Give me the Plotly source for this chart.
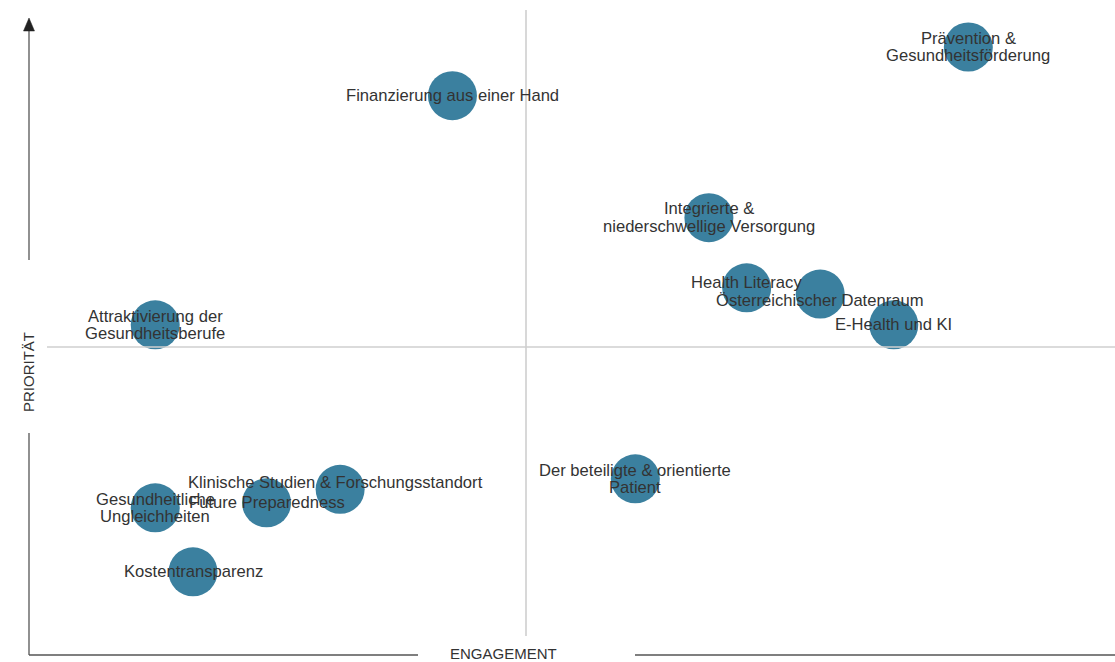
import plotly.graph_objects as go

# ---------------- data ----------------
topics = [
    "Prävention &<br>Gesundheitsförderung",
    "Finanzierung aus einer Hand",
    "Integrierte &<br>niederschwellige Versorgung",
    "Health Literacy",
    "Österreichischer Datenraum",
    "E-Health und KI",
    "Attraktivierung der<br>Gesundheitsberufe",
    "Der beteiligte & orientierte<br>Patient",
    "Gesundheitliche<br>Ungleichheiten",
    "Future Preparedness",
    "Klinische Studien & Forschungsstandort",
    "Kostentransparenz",
]
engagement = [9.45, 4.26, 6.84, 7.22, 7.96, 8.70, 1.27, 6.10, 1.27, 2.39, 3.13, 1.65]
prioritaet = [9.87, 9.08, 7.10, 5.96, 5.86, 5.36, 5.36, 2.86, 2.39, 2.47, 2.69, 1.35]
x_title = "ENGAGEMENT"
y_title = "PRIORITÄT"
midpoint = 5

# label nudges (pixels) for overlapping labels
label_shift = {
    "Health Literacy": (0, 5),
    "Österreichischer Datenraum": (0, -6),
    "Klinische Studien & Forschungsstandort": (-5, 7),
}
LINE_H = 17.5
FONT = "Liberation Sans, Arial, sans-serif"

W, H = 1115, 662
# pixel -> data mapping (axis corner at px (29,655), midpoint 5 at px (526,347))
X0PX, Y0PX = 29, 655
XS = (526 - X0PX) / midpoint
YS = (Y0PX - 347) / midpoint
xrange_ = [(0 - X0PX) / XS, (W - X0PX) / XS]
yrange_ = [(Y0PX - H) / YS, (Y0PX - 0) / YS]


def px(xp):
    return xp / W


def py(yp):
    return 1 - yp / H


fig = go.Figure()
fig.add_trace(go.Scatter(
    x=engagement, y=prioritaet, mode="markers",
    marker=dict(size=49, color="#3b809f", line=dict(width=0)),
    hoverinfo="text", hovertext=[t.replace("<br>", " ") for t in topics],
    showlegend=False,
))

for t, xv, yv in zip(topics, engagement, prioritaet):
    dx, dy = label_shift.get(t, (0, 0))
    lines = t.split("<br>")
    n = len(lines)
    for i, ln in enumerate(lines):
        fig.add_annotation(x=xv, y=yv, text=ln, showarrow=False,
                           xanchor="center", yanchor="middle",
                           xshift=dx, yshift=dy + ((n - 1) / 2 - i) * LINE_H,
                           font=dict(family=FONT, size=16.6, color="#333333"))

axis_col = "#555555"
shapes = []
# quadrant lines
shapes.append(dict(type="line", xref="x", yref="paper", x0=midpoint, x1=midpoint,
                   y0=py(636), y1=py(10), line=dict(color="#cfcfcf", width=1.6)))
shapes.append(dict(type="line", xref="paper", yref="y", x0=px(47), x1=px(1115),
                   y0=midpoint, y1=midpoint, line=dict(color="#cfcfcf", width=1.6)))
# y axis with gap for title
shapes.append(dict(type="line", xref="x", yref="paper", x0=0, x1=0, y0=py(30), y1=py(260),
                   line=dict(color=axis_col, width=1.3)))
shapes.append(dict(type="line", xref="x", yref="y", x0=0, x1=0, y0=(Y0PX - 433) / YS, y1=0,
                   line=dict(color=axis_col, width=1.3)))
# x axis with gap for title
shapes.append(dict(type="line", xref="x", yref="y", x0=0, x1=(418 - X0PX) / XS, y0=0, y1=0,
                   line=dict(color=axis_col, width=1.3)))
shapes.append(dict(type="line", xref="x", yref="y", x0=(635 - X0PX) / XS, x1=xrange_[1], y0=0, y1=0,
                   line=dict(color=axis_col, width=1.3)))
# arrow head
shapes.append(dict(type="path", xref="paper", yref="paper",
                   path=f"M {px(29)} {py(18)} L {px(34.5)} {py(31)} L {px(23.5)} {py(31)} Z",
                   fillcolor="#222222", line=dict(color="#222222", width=0.5)))

fig.add_annotation(xref="paper", yref="paper", x=px(503), y=py(653), text=x_title, showarrow=False,
                   xanchor="center", yanchor="middle",
                   font=dict(family=FONT, size=15, color="#333333"))
fig.add_annotation(xref="paper", yref="paper", x=px(28), y=py(372), text=y_title, showarrow=False,
                   xanchor="center", yanchor="middle", textangle=-90,
                   font=dict(family=FONT, size=15, color="#333333"))

fig.update_layout(
    width=W, height=H, margin=dict(l=0, r=0, t=0, b=0),
    paper_bgcolor="white", plot_bgcolor="white",
    xaxis=dict(range=xrange_, visible=False, fixedrange=True),
    yaxis=dict(range=yrange_, visible=False, fixedrange=True),
    shapes=shapes,
)

fig.write_html("out.html", config={"displayModeBar": False},
               post_script="document.body.style.margin='0';document.body.style.overflow='hidden';")
